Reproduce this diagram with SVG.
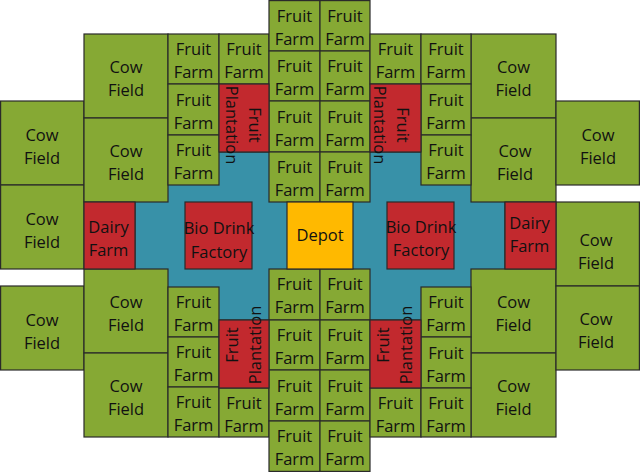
<svg xmlns="http://www.w3.org/2000/svg" width="640" height="472" viewBox="0 0 640 472">
<style>
rect{stroke:#2a2a2a;stroke-width:1.2}
.g{fill:#86A934}
.r{fill:#C2292E}
.b{fill:#3891A8}
.o{fill:#FFB900}
text{font-family:"Open Sans","Liberation Sans",sans-serif;font-size:16.5px;fill:#111;text-anchor:middle}
</style>
<rect width="640" height="472" fill="#fff" style="stroke:none"/>
<g id="courtyard"><rect class="b" x="135" y="152" width="370" height="168"/></g>

<!-- Cow fields -->
<g id="cow-l1"><rect class="g" x="0.6" y="101" width="83.4" height="84"/><text x="42" y="141">Cow<tspan x="42" y="164">Field</tspan></text></g>
<g id="cow-l2"><rect class="g" x="0.6" y="185" width="83.4" height="84"/><text x="42" y="225">Cow<tspan x="42" y="248">Field</tspan></text></g>
<g id="cow-l3"><rect class="g" x="0.6" y="286" width="83.4" height="84"/><text x="42" y="326">Cow<tspan x="42" y="349">Field</tspan></text></g>
<g id="cow-l4"><rect class="g" x="84" y="34" width="84" height="84"/><text x="126" y="73">Cow<tspan x="126" y="96">Field</tspan></text></g>
<g id="cow-l5"><rect class="g" x="84" y="118" width="84" height="84"/><text x="126" y="157">Cow<tspan x="126" y="180">Field</tspan></text></g>
<g id="cow-l6"><rect class="g" x="84" y="269" width="84" height="84"/><text x="126" y="308">Cow<tspan x="126" y="331">Field</tspan></text></g>
<g id="cow-l7"><rect class="g" x="84" y="353" width="84" height="84"/><text x="126" y="392">Cow<tspan x="126" y="415">Field</tspan></text></g>
<g id="cow-r1"><rect class="g" x="471" y="34" width="85" height="84"/><text x="513.5" y="73">Cow<tspan x="513.5" y="96">Field</tspan></text></g>
<g id="cow-r2"><rect class="g" x="471" y="118" width="85" height="84"/><text x="515" y="157">Cow<tspan x="515" y="180">Field</tspan></text></g>
<g id="cow-r3"><rect class="g" x="471" y="269" width="85" height="84"/><text x="513.5" y="308">Cow<tspan x="513.5" y="331">Field</tspan></text></g>
<g id="cow-r4"><rect class="g" x="471" y="353" width="85" height="84"/><text x="513.5" y="392">Cow<tspan x="513.5" y="415">Field</tspan></text></g>
<g id="cow-r5"><rect class="g" x="556" y="101" width="83.4" height="84"/><text x="598" y="141">Cow<tspan x="598" y="164">Field</tspan></text></g>
<g id="cow-r6"><rect class="g" x="556" y="202" width="83.4" height="84"/><text x="596" y="246">Cow<tspan x="596" y="269">Field</tspan></text></g>
<g id="cow-r7"><rect class="g" x="556" y="286" width="83.4" height="84"/><text x="596" y="325">Cow<tspan x="596" y="348">Field</tspan></text></g>

<!-- Fruit farms top-left -->
<g id="ff-tl1"><rect class="g" x="168" y="34" width="51" height="50"/><text x="193.5" y="55">Fruit<tspan x="193.5" y="78">Farm</tspan></text></g>
<g id="ff-tl2"><rect class="g" x="219" y="34" width="50" height="50"/><text x="244" y="55">Fruit<tspan x="244" y="78">Farm</tspan></text></g>
<g id="ff-tl3"><rect class="g" x="168" y="84" width="51" height="51"/><text x="193.5" y="105.5">Fruit<tspan x="193.5" y="128.5">Farm</tspan></text></g>
<g id="ff-tl4"><rect class="g" x="168" y="135" width="51" height="50"/><text x="193.5" y="156">Fruit<tspan x="193.5" y="179">Farm</tspan></text></g>

<!-- Fruit farms top center -->
<g id="ff-tc1"><rect class="g" x="269" y="0.6" width="51" height="50.4"/><text x="294.5" y="22">Fruit<tspan x="294.5" y="45">Farm</tspan></text></g>
<g id="ff-tc2"><rect class="g" x="320" y="0.6" width="50" height="50.4"/><text x="345" y="22">Fruit<tspan x="345" y="45">Farm</tspan></text></g>
<g id="ff-tc3"><rect class="g" x="269" y="51" width="51" height="50"/><text x="294.5" y="72">Fruit<tspan x="294.5" y="95">Farm</tspan></text></g>
<g id="ff-tc4"><rect class="g" x="320" y="51" width="50" height="50"/><text x="345" y="72">Fruit<tspan x="345" y="95">Farm</tspan></text></g>
<g id="ff-tc5"><rect class="g" x="269" y="101" width="51" height="51"/><text x="294.5" y="122.5">Fruit<tspan x="294.5" y="145.5">Farm</tspan></text></g>
<g id="ff-tc6"><rect class="g" x="320" y="101" width="50" height="51"/><text x="345" y="122.5">Fruit<tspan x="345" y="145.5">Farm</tspan></text></g>
<g id="ff-tc7"><rect class="g" x="269" y="152" width="51" height="50"/><text x="294.5" y="173">Fruit<tspan x="294.5" y="196">Farm</tspan></text></g>
<g id="ff-tc8"><rect class="g" x="320" y="152" width="50" height="50"/><text x="345" y="173">Fruit<tspan x="345" y="196">Farm</tspan></text></g>

<!-- Fruit farms top-right -->
<g id="ff-tr1"><rect class="g" x="370" y="34" width="51" height="50"/><text x="395.5" y="55">Fruit<tspan x="395.5" y="78">Farm</tspan></text></g>
<g id="ff-tr2"><rect class="g" x="421" y="34" width="50" height="50"/><text x="446" y="55">Fruit<tspan x="446" y="78">Farm</tspan></text></g>
<g id="ff-tr3"><rect class="g" x="421" y="84" width="50" height="51"/><text x="446" y="105.5">Fruit<tspan x="446" y="128.5">Farm</tspan></text></g>
<g id="ff-tr4"><rect class="g" x="421" y="135" width="50" height="50"/><text x="446" y="156">Fruit<tspan x="446" y="179">Farm</tspan></text></g>

<!-- Fruit farms bottom-left -->
<g id="ff-bl1"><rect class="g" x="168" y="287" width="51" height="50"/><text x="193.5" y="308">Fruit<tspan x="193.5" y="331">Farm</tspan></text></g>
<g id="ff-bl2"><rect class="g" x="168" y="337" width="51" height="50"/><text x="193.5" y="358">Fruit<tspan x="193.5" y="381">Farm</tspan></text></g>
<g id="ff-bl3"><rect class="g" x="168" y="387" width="51" height="50"/><text x="193.5" y="408">Fruit<tspan x="193.5" y="431">Farm</tspan></text></g>
<g id="ff-bl4"><rect class="g" x="219" y="388" width="50" height="49"/><text x="244" y="408.5">Fruit<tspan x="244" y="431.5">Farm</tspan></text></g>

<!-- Fruit farms bottom center -->
<g id="ff-bc1"><rect class="g" x="269" y="269" width="51" height="51"/><text x="294.5" y="290">Fruit<tspan x="294.5" y="313">Farm</tspan></text></g>
<g id="ff-bc2"><rect class="g" x="320" y="269" width="50" height="51"/><text x="345" y="290">Fruit<tspan x="345" y="313">Farm</tspan></text></g>
<g id="ff-bc3"><rect class="g" x="269" y="320" width="51" height="50"/><text x="294.5" y="341">Fruit<tspan x="294.5" y="364">Farm</tspan></text></g>
<g id="ff-bc4"><rect class="g" x="320" y="320" width="50" height="50"/><text x="345" y="341">Fruit<tspan x="345" y="364">Farm</tspan></text></g>
<g id="ff-bc5"><rect class="g" x="269" y="370" width="51" height="51"/><text x="294.5" y="391.5">Fruit<tspan x="294.5" y="414.5">Farm</tspan></text></g>
<g id="ff-bc6"><rect class="g" x="320" y="370" width="50" height="51"/><text x="345" y="391.5">Fruit<tspan x="345" y="414.5">Farm</tspan></text></g>
<g id="ff-bc7"><rect class="g" x="269" y="421" width="51" height="50.4"/><text x="294.5" y="442">Fruit<tspan x="294.5" y="465">Farm</tspan></text></g>
<g id="ff-bc8"><rect class="g" x="320" y="421" width="50" height="50.4"/><text x="345" y="442">Fruit<tspan x="345" y="465">Farm</tspan></text></g>

<!-- Fruit farms bottom-right -->
<g id="ff-br1"><rect class="g" x="370" y="388" width="51" height="49"/><text x="395.5" y="408.5">Fruit<tspan x="395.5" y="431.5">Farm</tspan></text></g>
<g id="ff-br2"><rect class="g" x="421" y="287" width="50" height="50"/><text x="446" y="308">Fruit<tspan x="446" y="331">Farm</tspan></text></g>
<g id="ff-br3"><rect class="g" x="421" y="337" width="50" height="51"/><text x="446" y="358.5">Fruit<tspan x="446" y="381.5">Farm</tspan></text></g>
<g id="ff-br4"><rect class="g" x="421" y="388" width="50" height="49"/><text x="446" y="408.5">Fruit<tspan x="446" y="431.5">Farm</tspan></text></g>

<!-- Fruit plantations -->
<g id="plant-tl"><rect class="r" x="219" y="84" width="50" height="68"/><text transform="translate(243,125) rotate(90)"><tspan x="0" y="-5.75">Fruit</tspan><tspan x="0" y="17.25">Plantation</tspan></text></g>
<g id="plant-tr"><rect class="r" x="370" y="84" width="51" height="68"/><text transform="translate(391.5,125) rotate(90)"><tspan x="0" y="-5.75">Fruit</tspan><tspan x="0" y="17.25">Plantation</tspan></text></g>
<g id="plant-bl"><rect class="r" x="219" y="320" width="50" height="68"/><text transform="translate(243,345) rotate(-90)"><tspan x="0" y="-5">Fruit</tspan><tspan x="0" y="18">Plantation</tspan></text></g>
<g id="plant-br"><rect class="r" x="370" y="320" width="51" height="68"/><text transform="translate(394,345) rotate(-90)"><tspan x="0" y="-5">Fruit</tspan><tspan x="0" y="18">Plantation</tspan></text></g>

<!-- Dairy farms -->
<g id="dairy-l"><rect class="r" x="84" y="202" width="51" height="67"/><text x="108.5" y="233">Dairy<tspan x="108.5" y="256">Farm</tspan></text></g>
<g id="dairy-r"><rect class="r" x="505" y="202" width="51" height="67"/><text x="529.5" y="229">Dairy<tspan x="529.5" y="252">Farm</tspan></text></g>

<!-- Bio drink factories -->
<g id="bio-l"><rect class="r" x="185" y="202" width="67" height="67"/><text x="219" y="234">Bio Drink<tspan x="219" y="258">Factory</tspan></text></g>
<g id="bio-r"><rect class="r" x="387" y="202" width="67" height="67"/><text x="421" y="233">Bio Drink<tspan x="421" y="256">Factory</tspan></text></g>

<!-- Depot -->
<g id="depot"><rect class="o" x="287" y="202" width="66" height="67"/><text x="320" y="241">Depot</text></g>
</svg>
